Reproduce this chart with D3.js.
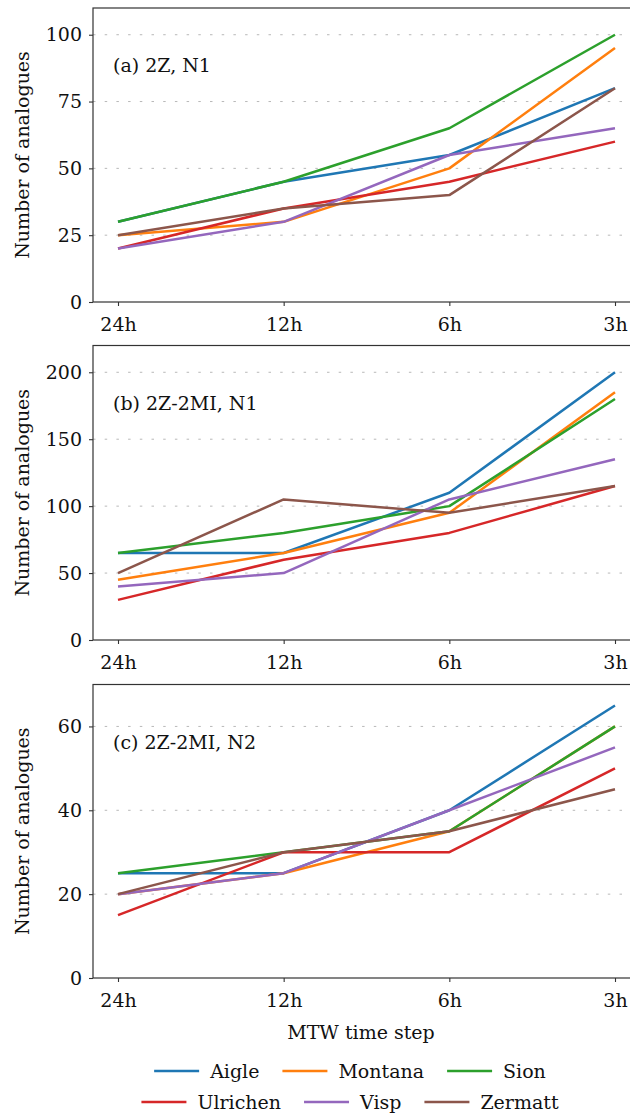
<!DOCTYPE html>
<html>
<head>
<meta charset="utf-8">
<script src="https://cdn.jsdelivr.net/npm/d3@7"></script>
<style>
  body { margin: 0; background: #fff; }
  svg text { font-family: "DejaVu Serif", serif; fill: #111; }
</style>
</head>
<body>
<div id="chart"></div>
<script>
// time steps on the x axis
var steps = ["24h", "12h", "6h", "3h"];
var stations = ["Aigle", "Montana", "Sion", "Ulrichen", "Visp", "Zermatt"];
var colors = ["#1f77b4", "#ff7f0e", "#2ca02c", "#d62728", "#9467bd", "#8c564b"];

// (a) 2Z, N1 - one row per station, same order as stations
var valuesA = [
  [30, 45, 55, 80],
  [25, 30, 50, 95],
  [30, 45, 65, 100],
  [20, 35, 45, 60],
  [20, 30, 55, 65],
  [25, 35, 40, 80]
];
// (b) 2Z-2MI, N1
var valuesB = [
  [65, 65, 110, 200],
  [45, 65, 95, 185],
  [65, 80, 100, 180],
  [30, 60, 80, 115],
  [40, 50, 105, 135],
  [50, 105, 95, 115]
];
// (c) 2Z-2MI, N2
var valuesC = [
  [25, 25, 40, 65],
  [20, 25, 35, 60],
  [25, 30, 35, 60],
  [15, 30, 30, 50],
  [20, 25, 40, 55],
  [20, 30, 35, 45]
];

var ticksA = [0, 25, 50, 75, 100];
var ticksB = [0, 50, 100, 150, 200];
var ticksC = [0, 20, 40, 60];

var panels = [
  { label: "(a) 2Z, N1", values: valuesA, ticks: ticksA, ymax: 110, top: 8, bottom: 302 },
  { label: "(b) 2Z-2MI, N1", values: valuesB, ticks: ticksB, ymax: 220, top: 345.5, bottom: 640 },
  { label: "(c) 2Z-2MI, N2", values: valuesC, ticks: ticksC, ymax: 70, top: 684.5, bottom: 978 }
];

var w = 630, h = 1118;
var left = 93, right = 640;  // right spine sits just outside the picture

var svg = d3.select("#chart").append("svg")
  .attr("width", w)
  .attr("height", h);

var xScale = d3.scalePoint()
  .domain(steps)
  .range([118, 615]);

panels.forEach(function (p) {
  var yScale = d3.scaleLinear()
    .domain([0, p.ymax])
    .range([p.bottom, p.top]);

  var g = svg.append("g");

  // dotted grid lines
  g.selectAll("line.grid")
    .data(p.ticks.filter(d => d > 0))
    .enter().append("line")
    .attr("class", "grid")
    .attr("x1", left).attr("x2", right)
    .attr("y1", d => yScale(d)).attr("y2", d => yScale(d))
    .attr("stroke", "#b8b8b8")
    .attr("stroke-width", 1)
    .attr("stroke-dasharray", "2.5,9.2");

  // series lines
  var line = d3.line()
    .x((d, i) => xScale(steps[i]))
    .y(d => yScale(d));

  g.selectAll("path.series")
    .data(p.values)
    .enter().append("path")
    .attr("class", "series")
    .attr("d", line)
    .attr("fill", "none")
    .attr("stroke", (d, i) => colors[i])
    .attr("stroke-width", 2.5)
    .attr("stroke-linejoin", "round");

  // frame
  g.append("rect")
    .attr("x", left).attr("y", p.top)
    .attr("width", right - left).attr("height", p.bottom - p.top)
    .attr("fill", "none")
    .attr("stroke", "#333")
    .attr("stroke-width", 1.2);

  var yAxis = d3.axisLeft(yScale)
    .tickValues(p.ticks)
    .tickSize(4)
    .tickPadding(7);
  var ya = g.append("g")
    .attr("transform", "translate(" + left + ",0)")
    .call(yAxis);
  ya.select(".domain").remove();
  ya.selectAll("line").attr("stroke", "#333").attr("stroke-width", 1.1);
  ya.selectAll("text").attr("font-size", 19).attr("font-family", "DejaVu Serif").attr("fill", "#111");

  var xAxis = d3.axisBottom(xScale)
    .tickSize(4)
    .tickPadding(12);
  var xa = g.append("g")
    .attr("transform", "translate(0," + p.bottom + ")")
    .call(xAxis);
  xa.select(".domain").remove();
  xa.selectAll("line").attr("stroke", "#333").attr("stroke-width", 1.1);
  xa.selectAll("text").attr("font-size", 19).attr("font-family", "DejaVu Serif").attr("fill", "#111");

  // y label
  g.append("text")
    .attr("transform", "translate(29," + (p.top + p.bottom) / 2 + ") rotate(-90)")
    .attr("text-anchor", "middle")
    .attr("font-size", 19)
    .text("Number of analogues");

  // panel label
  g.append("text")
    .attr("x", 113)
    .attr("y", p.top + 64)
    .attr("font-size", 19)
    .text(p.label);
});

// x axis title
svg.append("text")
  .attr("x", 361)
  .attr("y", 1039)
  .attr("text-anchor", "middle")
  .attr("font-size", 19)
  .text("MTW time step");

// legend, two centred rows of three
var rows = [[0, 1, 2], [3, 4, 5]];
var rowY = [1071, 1102];
rows.forEach(function (row, r) {
  var lg = svg.append("g");
  var x = 0;
  row.forEach(function (k) {
    lg.append("line")
      .attr("x1", x).attr("x2", x + 45)
      .attr("y1", 0).attr("y2", 0)
      .attr("stroke", colors[k])
      .attr("stroke-width", 2.5);
    var t = lg.append("text")
      .attr("x", x + 56)
      .attr("y", 0)
      .attr("dy", "0.36em")
      .attr("font-size", 19)
      .text(stations[k]);
    x += 56 + t.node().getComputedTextLength() + 23;
  });
  var total = x - 23;
  lg.attr("transform", "translate(" + (350 - total / 2) + "," + rowY[r] + ")");
});
</script>
</body>
</html>
